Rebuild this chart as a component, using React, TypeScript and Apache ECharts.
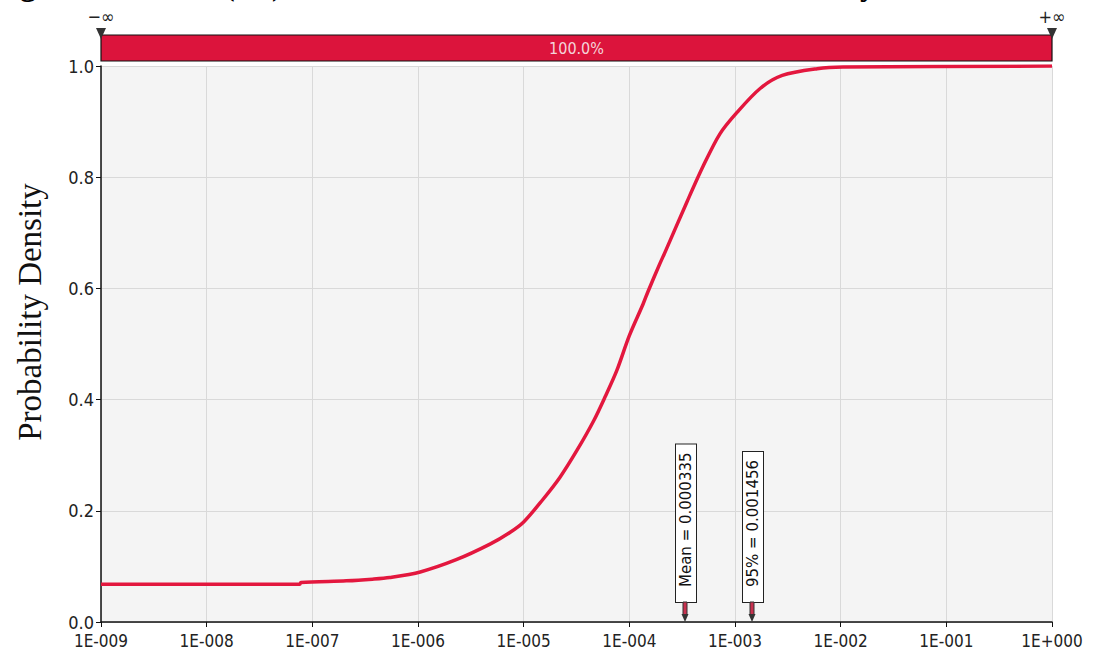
import React, { useEffect, useRef } from "react";
import * as echarts from "echarts";

// Cumulative curve: x (value, log axis) and y
const curveX = [
  1e-9, 7.6e-8, 7.8e-8, 2.1e-7, 3.7e-7, 5.4e-7, 1.05e-6, 2.3e-6, 4.8e-6, 7.4e-6,
  1.0e-5, 1.5e-5, 2.2e-5, 3.2e-5, 4.6e-5, 5.9e-5, 7.6e-5, 1.0e-4, 1.35e-4, 1.5e-4,
  1.95e-4, 2.2e-4, 3.5e-4, 5.0e-4, 7.2e-4, 1.05e-3, 1.74e-3, 2.8e-3, 6.0e-3, 1.05e-2, 1,
];
const curveY = [
  0.068, 0.068, 0.071, 0.074, 0.077, 0.080, 0.090, 0.112, 0.140, 0.161,
  0.180, 0.219, 0.260, 0.309, 0.362, 0.405, 0.452, 0.515, 0.572, 0.594,
  0.645, 0.667, 0.755, 0.820, 0.878, 0.917, 0.960, 0.983, 0.995, 0.998, 1.0,
];

// Markers
const markerValues = [0.000335, 0.001456];
const markerLabels = ["Mean = 0.000335", "95% = 0.001456"];

// Band across the top
const bandLabel = "100.0%";
const bandLeftLabel = "\u2212\u221e";
const bandRightLabel = "+\u221e";

const yTicks = [0, 0.2, 0.4, 0.6, 0.8, 1.0];
const yAxisTitle = "Probability Density";

const condensed = '"DejaVu Sans Condensed", "Liberation Sans Narrow", "DejaVu Sans", sans-serif';

function fmtExp(v: number): string {
  const e = Math.round(Math.log10(v));
  const s = String(Math.abs(e)).padStart(3, "0");
  return "1E" + (e < 0 ? "-" : "+") + s;
}

export default function App() {
  const ref = useRef<HTMLDivElement>(null);
  useEffect(() => {
    if (!ref.current) return;
    const chart = echarts.init(ref.current, null, { renderer: "svg" });
    const GL = 101, GR = 41, GT = 66, GB = 39;
    const W = 1093;
    const serifBold = { fill: "#000", fontSize: 32, fontWeight: "bold", fontFamily: '"Liberation Serif", serif', align: "left", verticalAlign: "bottom" };
    const option: any = {
      animation: false,
      backgroundColor: "#ffffff",
      grid: { left: GL, right: GR, top: GT, bottom: GB, show: true, backgroundColor: "#f4f4f4", borderWidth: 0 },
      xAxis: {
        type: "log",
        logBase: 10,
        min: 1e-9,
        max: 1,
        splitNumber: 9,
        axisLine: { show: true, onZero: false, lineStyle: { color: "#111", width: 1.5 } },
        axisTick: { show: true, length: 5, lineStyle: { color: "#111" } },
        axisLabel: {
          formatter: (v: number) => fmtExp(v),
          color: "#222",
          fontSize: 17,
          fontFamily: condensed,
          margin: 10,
          showMinLabel: true,
          showMaxLabel: true,
        },
        minorTick: { show: false },
        splitLine: { show: true, lineStyle: { color: "#d9d9d9", width: 1 } },
      },
      yAxis: {
        type: "value",
        min: yTicks[0],
        max: yTicks[yTicks.length - 1],
        interval: 0.2,
        axisLine: { show: true, lineStyle: { color: "#111", width: 1.5 } },
        axisTick: { show: true, length: 5, lineStyle: { color: "#111" } },
        axisLabel: {
          formatter: (v: number) => v.toFixed(1),
          color: "#222",
          fontSize: 18,
          lineHeight: 16,
          fontFamily: condensed,
          margin: 7,
        },
        splitLine: { show: true, lineStyle: { color: "#d9d9d9", width: 1 } },
      },
      series: [
        {
          type: "line",
          data: curveX.map((x, i) => [x, curveY[i]]),
          showSymbol: false,
          smooth: 0.3,
          lineStyle: { color: "#e3173e", width: 3.5 },
          z: 3,
        },
        {
          type: "custom",
          data: markerValues.map((v, i) => [v, 0, i]),
          z: 5,
          renderItem: (params: any, api: any) => {
            const p = api.coord([api.value(0), 0]);
            const idx = api.value(2);
            const px = Math.round(p[0]);
            const py = p[1];
            return {
              type: "group",
              children: [
                {
                  type: "text",
                  x: px + 1,
                  y: py - 20,
                  rotation: Math.PI / 2,
                  style: {
                    text: markerLabels[idx],
                    fontSize: 15,
                    fontFamily: '"DejaVu Sans", sans-serif',
                    fill: "#111",
                    align: "left",
                    verticalAlign: "middle",
                    backgroundColor: "#ffffff",
                    borderColor: "#222",
                    borderWidth: 1,
                    padding: [3, 8, 2, 15],
                  },
                },
                {
                  type: "rect",
                  shape: { x: px - 2, y: py - 20, width: 4, height: 13 },
                  style: { fill: "#c8314f", stroke: "#333", lineWidth: 1 },
                },
                {
                  type: "polygon",
                  shape: { points: [[px - 3.5, py - 8], [px + 3.5, py - 8], [px, py]] },
                  style: { fill: "#333" },
                },
              ],
            };
          },
        },
      ],
      graphic: [
        {
          type: "rect",
          shape: { x: GL, y: 35, width: W - GL - GR, height: 26 },
          style: { fill: "#dc143c", stroke: "#111", lineWidth: 1.2 },
          z: 10,
        },
        {
          type: "text",
          x: GL + (W - GL - GR) / 2,
          y: 48,
          style: { text: bandLabel, fill: "#f4d4da", fontSize: 16, fontFamily: condensed, align: "center", verticalAlign: "middle" },
          z: 11,
        },
        {
          type: "polygon",
          shape: { points: [[GL - 5, 28], [GL + 5, 28], [GL, 39]] },
          style: { fill: "#333" },
          z: 12,
        },
        {
          type: "polygon",
          shape: { points: [[W - GR - 5, 28], [W - GR + 5, 28], [W - GR, 39]] },
          style: { fill: "#333" },
          z: 12,
        },
        {
          type: "text",
          x: GL,
          y: 16,
          style: { text: bandLeftLabel, fill: "#222", fontSize: 18, fontFamily: condensed, align: "center", verticalAlign: "middle" },
        },
        {
          type: "text",
          x: W - GR,
          y: 16,
          style: { text: bandRightLabel, fill: "#222", fontSize: 18, fontFamily: condensed, align: "center", verticalAlign: "middle" },
        },
        {
          type: "text",
          x: 30,
          y: 312,
          rotation: Math.PI / 2,
          style: { text: yAxisTitle, fill: "#111", fontSize: 33, fontFamily: '"Liberation Serif", "Times New Roman", serif', align: "center", verticalAlign: "middle" },
        },
        { type: "text", x: 20, y: 0, style: { ...serifBold, text: "g" } },
        { type: "text", x: 224, y: 0, style: { ...serifBold, text: "(IQ)" } },
        { type: "text", x: 860, y: 0, style: { ...serifBold, text: "y" } },
      ],
    };
    chart.setOption(option);
    return () => chart.dispose();
  }, []);
  return <div ref={ref} style={{ position: "fixed", left: 0, top: 0, width: 1093, height: 661 }} />;
}
